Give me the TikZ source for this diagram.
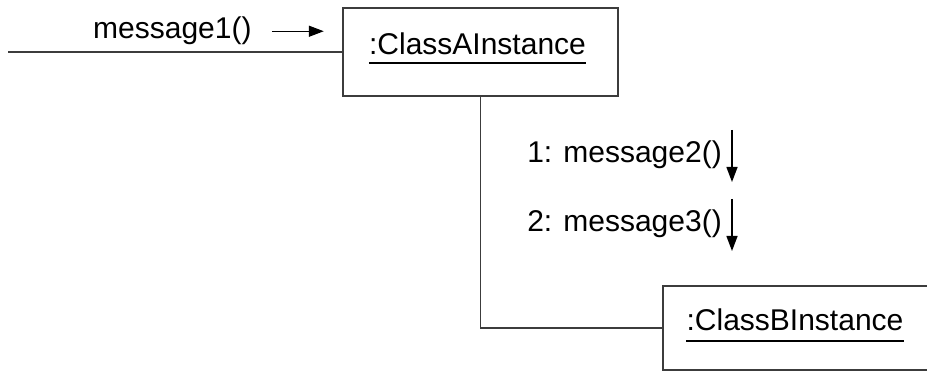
\documentclass[tikz,border=0pt]{standalone}
\usepackage{fontspec}
\setmainfont{Liberation Sans}
\usetikzlibrary{arrows.meta, positioning, calc}
\definecolor{boxLine}{RGB}{60,60,60}

\begin{document}
\begin{tikzpicture}[x=1pt, y=-1pt,
    objbox/.style={draw=boxLine, line width=1.5pt, inner sep=0pt},
    objname/.style={font=\fontsize{30}{36}\selectfont, inner sep=0pt},
    msg/.style={font=\fontsize{30}{36}\selectfont, inner sep=0pt},
    link/.style={draw=boxLine, line width=1.5pt},
    call/.style={-{Triangle[length=15pt,width=11pt]}, line width=1.4pt}]
        \useasboundingbox (0,0) rectangle (927,371);

        % Objects
        \node[objbox, minimum width=275pt, minimum height=88pt] (classA) at (480.5,52) {};
        \node[objbox, minimum width=284pt, minimum height=84pt] (classB) at (805,328) {};
        \node[objname, anchor=base] (nameA) at (477.5,55) {:ClassAInstance};
        \node[objname, anchor=base] (nameB) at (795,331) {:ClassBInstance};
        \draw[line width=1.8pt] ([yshift=-8pt]nameA.base west) -- ([yshift=-8pt]nameA.base east);
        \draw[line width=1.8pt] ([yshift=-10pt]nameB.base west) -- ([yshift=-10pt]nameB.base east);

        % Links
        \coordinate (caller) at (8,52);
        \draw[link] (caller) -- (classA.west);
        \draw[link] (classA.south) |- (classB.west);

        % Messages
        \node[msg, anchor=base west] (msg1) at (93,39) {message1()};
        \node[msg, anchor=base east] (msg2) at (722,163) {1: message2()};
        \node[msg, anchor=base east] (msg3) at (722,232) {2: message3()};
        \coordinate[right=20pt of msg1.east] (call1);
        \coordinate (call2) at ($(msg2.base east)+(10,-33)$);
        \coordinate (call3) at ($(msg3.base east)+(10,-33)$);
        \draw[call] (call1) -- ++(52,0);
        \draw[call] (call2) -- ++(0,52);
        \draw[call] (call3) -- ++(0,52);
    \end{tikzpicture}
\end{document}
